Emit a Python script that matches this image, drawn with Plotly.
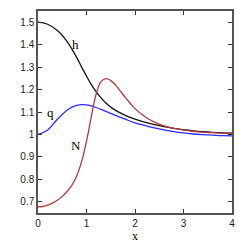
import plotly.graph_objects as go

x_vals = [0, 0.2, 0.4, 0.6, 0.7, 0.8, 0.9, 1.0, 1.1, 1.2, 1.3, 1.4, 1.5, 1.6,
          1.8, 2.0, 2.2, 2.4, 2.6, 2.8, 3.0, 3.2, 3.4, 3.6, 3.8, 4.0]
h_vals = [1.5, 1.491, 1.463, 1.414, 1.38, 1.342, 1.3, 1.26, 1.222, 1.19, 1.163, 1.14, 1.122, 1.107,
          1.085, 1.068, 1.055, 1.044, 1.035, 1.027, 1.021, 1.016, 1.012, 1.009, 1.007, 1.006]
q_vals = [1.0, 1.02, 1.068, 1.108, 1.122, 1.13, 1.133, 1.132, 1.127, 1.12, 1.112, 1.103, 1.094, 1.085,
          1.068, 1.052, 1.04, 1.029, 1.02, 1.013, 1.007, 1.002, 0.999, 0.997, 0.995, 0.994]

N_x = [0, 0.1, 0.2, 0.3, 0.4, 0.5, 0.6, 0.7, 0.8, 0.9, 1.0, 1.1, 1.2, 1.3, 1.4, 1.5, 1.6, 1.7,
       1.8, 1.9, 2.0, 2.2, 2.4, 2.6, 2.8, 3.0, 3.2, 3.4, 3.6, 3.8, 4.0]
N_vals = [0.677, 0.679, 0.685, 0.694, 0.707, 0.724, 0.746, 0.774, 0.816, 0.88, 0.97, 1.08, 1.18,
          1.235, 1.249, 1.24, 1.22, 1.193, 1.165, 1.139, 1.115, 1.08, 1.055, 1.038, 1.027,
          1.02, 1.014, 1.01, 1.008, 1.006, 1.005]

x_ticks = [0, 1, 2, 3, 4]
y_ticks = [0.7, 0.8, 0.9, 1.0, 1.1, 1.2, 1.3, 1.4, 1.5]
y_tick_text = ["0.7", "0.8", "0.9", "1", "1.1", "1.2", "1.3", "1.4", "1.5"]

series = [("h", x_vals, h_vals, "#111111"), ("q", x_vals, q_vals, "#2a2aff"),
          ("N", N_x, N_vals, "#b33a3a")]
label_pos = {"h": (0.77, 1.40), "q": (0.25, 1.097), "N": (0.79, 0.95)}

fig = go.Figure()
for name, xs, vals, col in series:
    fig.add_trace(go.Scatter(x=xs, y=vals, mode="lines", name=name,
                             line=dict(color=col, width=1.3, shape="spline", smoothing=1.2),
                             showlegend=False, hoverinfo="skip"))
    lx, ly = label_pos[name]
    fig.add_annotation(x=lx, y=ly, xref="x", yref="y", text=name, showarrow=False,
                       font=dict(family="Liberation Serif, DejaVu Serif, serif", size=13, color="#000"))

axis_common = dict(showgrid=False, zeroline=False, showline=True, linecolor="#555555", linewidth=1.5,
                   mirror="ticks", ticks="inside", ticklen=4, tickwidth=1, tickcolor="#333333",
                   automargin=False,
                   tickfont=dict(family="Liberation Sans, Arial, sans-serif", size=10, color="#222"))

fig.update_xaxes(range=[0, 4], tickvals=x_ticks, ticktext=[str(t) for t in x_ticks],
                 title=dict(text="x", standoff=4,
                            font=dict(family="Liberation Serif, DejaVu Serif, serif", size=12, color="#000")),
                 **axis_common)
fig.update_yaxes(range=[0.65, 1.55], tickvals=y_ticks, ticktext=y_tick_text, **axis_common)

fig.update_layout(width=250, height=245, margin=dict(l=38, r=18, t=11, b=32),
                  plot_bgcolor="white", paper_bgcolor="white")

fig.write_html("out.html", config={"displayModeBar": False},
               post_script="document.body.style.margin='0';document.body.style.padding='0';")
